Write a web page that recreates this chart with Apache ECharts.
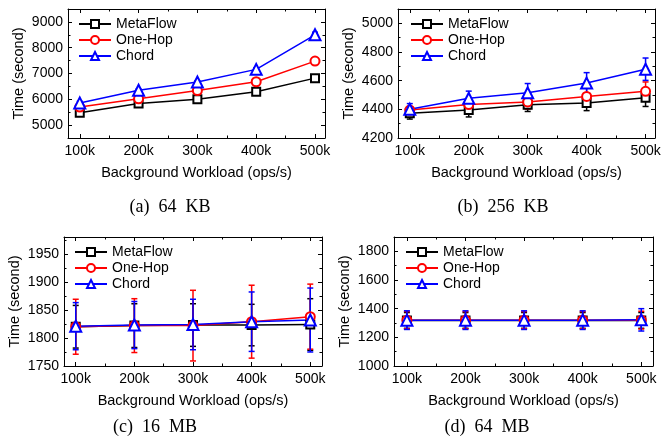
<!DOCTYPE html>
<html>
<head>
<meta charset="utf-8">
<script src="https://cdn.jsdelivr.net/npm/echarts@6/dist/echarts.min.js"></script>
<style>
html,body{margin:0;padding:0;background:#fff;}
#chart{width:665px;height:442px;}
</style>
</head>
<body>
<div id="chart"></div>
<script>
// ---- data ----
const categories = [100, 200, 300, 400, 500];
const xTickLabels = ['100k', '200k', '300k', '400k', '500k'];
const xMinorTicks = [150, 250, 350, 450];
const seriesNames = ['MetaFlow', 'One-Hop', 'Chord'];
const captions = ['(a)  64  KB', '(b)  256  KB', '(c)  16  MB', '(d)  64  MB'];
const xAxisTitle = 'Background Workload (ops/s)';
const yAxisTitle = 'Time (second)';

// (a) 64 KB
const a_MetaFlow = [5480, 5840, 6000, 6290, 6820];
const a_OneHop = [5700, 6020, 6340, 6680, 7480];
const a_Chord = [5860, 6350, 6670, 7160, 8500];
const a_MetaFlowErr = [60, 50, 50, 50, 50];
const a_OneHopErr = [50, 50, 50, 50, 60];
const a_ChordErr = [60, 50, 50, 60, 100];
const a_yTicks = [5000, 6000, 7000, 8000, 9000];
const a_yMinor = [4500, 5500, 6500, 7500, 8500, 9500];

// (b) 256 KB
const b_MetaFlow = [4372, 4395, 4432, 4444, 4480];
const b_OneHop = [4395, 4433, 4452, 4490, 4526];
const b_Chord = [4400, 4477, 4515, 4583, 4680];
const b_MetaFlowErr = [40, 48, 47, 53, 60];
const b_OneHopErr = [20, 22, 50, 57, 65];
const b_ChordErr = [40, 50, 65, 73, 78];
const b_yTicks = [4200, 4400, 4600, 4800, 5000];
const b_yMinor = [4300, 4500, 4700, 4900];

// (c) 16 MB
const c_MetaFlow = [1820, 1822, 1823, 1823, 1824];
const c_OneHop = [1820, 1822, 1822, 1829, 1838];
const c_Chord = [1821, 1823, 1824, 1829, 1832];
const c_MetaFlowErr = [38, 39, 38, 37, 46];
const c_OneHopErr = [49, 48, 63, 65, 58];
const c_ChordErr = [42, 42, 45, 53, 57];
const c_yTicks = [1750, 1800, 1850, 1900, 1950];
const c_yMinor = [1775, 1825, 1875, 1925, 1975];

// (d) 64 MB
const d_MetaFlow = [1318, 1318, 1318, 1318, 1318];
const d_OneHop = [1320, 1320, 1320, 1320, 1320];
const d_Chord = [1320, 1320, 1320, 1320, 1322];
const d_MetaFlowErr = [55, 55, 55, 55, 55];
const d_OneHopErr = [60, 60, 60, 60, 62];
const d_ChordErr = [65, 65, 65, 65, 78];
const d_yTicks = [1000, 1200, 1400, 1600, 1800];
const d_yMinor = [1100, 1300, 1500, 1700];

// ---- layout/style ----
const panels = [
  {grid: {left: 68, top: 9, width: 257, height: 129}, xMin: 80, xMax: 517, yMin: 4500, yMax: 9500,
   yTicks: a_yTicks, yMinor: a_yMinor, vals: [a_MetaFlow, a_OneHop, a_Chord], errs: [a_MetaFlowErr, a_OneHopErr, a_ChordErr],
   legend: {left: 78, top: 17}, caption: {x: 170, y: 207}},
  {grid: {left: 398, top: 9, width: 257, height: 129}, xMin: 80, xMax: 516, yMin: 4200, yMax: 5100,
   yTicks: b_yTicks, yMinor: b_yMinor, vals: [b_MetaFlow, b_OneHop, b_Chord], errs: [b_MetaFlowErr, b_OneHopErr, b_ChordErr],
   legend: {left: 410, top: 17}, caption: {x: 503, y: 207}},
  {grid: {left: 64, top: 237, width: 258, height: 129}, xMin: 80, xMax: 520, yMin: 1750, yMax: 1980,
   yTicks: c_yTicks, yMinor: c_yMinor, vals: [c_MetaFlow, c_OneHop, c_Chord], errs: [c_MetaFlowErr, c_OneHopErr, c_ChordErr],
   legend: {left: 74, top: 245}, caption: {x: 155, y: 427}},
  {grid: {left: 394, top: 237, width: 259, height: 129}, xMin: 78, xMax: 520, yMin: 1000, yMax: 1900,
   yTicks: d_yTicks, yMinor: d_yMinor, vals: [d_MetaFlow, d_OneHop, d_Chord], errs: [d_MetaFlowErr, d_OneHopErr, d_ChordErr],
   legend: {left: 405, top: 245}, caption: {x: 487, y: 427}}
];
const colors = ['#000000', '#ff0000', '#0000ff'];
const symbols = ['emptyRect', 'emptyCircle', 'emptyTriangle'];
const symbolSizes = [8, 9, 11];
const FONT = 'Liberation Sans, Arial, sans-serif';

const option = {
  animation: false,
  backgroundColor: '#fff',
  grid: [], xAxis: [], yAxis: [], series: [], legend: [], graphic: []
};

panels.forEach((p, gi) => {
  option.grid.push(Object.assign({containLabel: false}, p.grid));
  const axLine = {show: true, onZero: false, lineStyle: {color: '#000', width: 1}};
  const base = {gridIndex: gi, type: 'value', splitLine: {show: false}};
  const xBase = Object.assign({}, base, {min: p.xMin, max: p.xMax});
  const yBase = Object.assign({}, base, {min: p.yMin, max: p.yMax});
  const xi = option.xAxis.length;
  option.xAxis.push(Object.assign({}, xBase, {
    position: 'bottom', axisLine: axLine,
    axisTick: {show: true, inside: true, length: 4, customValues: categories, lineStyle: {color: '#000'}},
    axisLabel: {show: true, customValues: categories, margin: 6, color: '#000', fontSize: 14, fontFamily: FONT,
      formatter: v => xTickLabels[categories.indexOf(v)]},
    name: xAxisTitle, nameLocation: 'middle', nameGap: 27,
    nameTextStyle: {color: '#000', fontSize: 14.5, fontFamily: FONT}
  }));
  option.xAxis.push(Object.assign({}, xBase, {
    position: 'top', axisLine: axLine,
    axisTick: {show: true, inside: true, length: 4, customValues: categories, lineStyle: {color: '#000'}},
    axisLabel: {show: false}
  }));
  option.xAxis.push(Object.assign({}, xBase, {
    position: 'top', axisLine: {show: false},
    axisTick: {show: true, inside: true, length: 2.5, customValues: xMinorTicks, lineStyle: {color: '#000'}},
    axisLabel: {show: false}
  }));
  option.xAxis.push(Object.assign({}, xBase, {
    position: 'bottom', axisLine: {show: false},
    axisTick: {show: true, inside: true, length: 2.5, customValues: xMinorTicks, lineStyle: {color: '#000'}},
    axisLabel: {show: false}
  }));
  const yi = option.yAxis.length;
  option.yAxis.push(Object.assign({}, yBase, {
    position: 'left', axisLine: axLine,
    axisTick: {show: true, inside: true, length: 4, customValues: p.yTicks, lineStyle: {color: '#000'}},
    axisLabel: {show: true, customValues: p.yTicks, margin: 5, color: '#000', fontSize: 14, fontFamily: FONT,
      formatter: v => String(v)},
    name: yAxisTitle, nameLocation: 'middle', nameGap: 42, nameRotate: 90,
    nameTextStyle: {color: '#000', fontSize: 14.5, fontFamily: FONT}
  }));
  option.yAxis.push(Object.assign({}, yBase, {
    position: 'right', axisLine: axLine,
    axisTick: {show: true, inside: true, length: 4, customValues: p.yTicks, lineStyle: {color: '#000'}},
    axisLabel: {show: false}
  }));
  option.yAxis.push(Object.assign({}, yBase, {
    position: 'right', axisLine: {show: false},
    axisTick: {show: true, inside: true, length: 2.5, customValues: p.yMinor, lineStyle: {color: '#000'}},
    axisLabel: {show: false}
  }));
  option.yAxis.push(Object.assign({}, yBase, {
    position: 'left', axisLine: {show: false},
    axisTick: {show: true, inside: true, length: 2.5, customValues: p.yMinor, lineStyle: {color: '#000'}},
    axisLabel: {show: false}
  }));

  seriesNames.forEach((name, si) => {
    const vals = p.vals[si], errs = p.errs[si];
    option.series.push({
      type: 'custom', name: name + ' error', xAxisIndex: xi, yAxisIndex: yi,
      data: categories.map((x, k) => [x, vals[k] - errs[k], vals[k] + errs[k]]),
      encode: {x: 0, y: [1, 2]},
      silent: true,
      renderItem: (params, api) => {
        const lo = api.coord([api.value(0), api.value(1)]);
        const hi = api.coord([api.value(0), api.value(2)]);
        const w = 3;
        const st = {stroke: colors[si], lineWidth: 1.5};
        return {type: 'group', children: [
          {type: 'line', shape: {x1: lo[0], y1: lo[1], x2: hi[0], y2: hi[1]}, style: st},
          {type: 'line', shape: {x1: lo[0] - w, y1: lo[1], x2: lo[0] + w, y2: lo[1]}, style: st},
          {type: 'line', shape: {x1: hi[0] - w, y1: hi[1], x2: hi[0] + w, y2: hi[1]}, style: st}
        ]};
      }
    });
    option.series.push({
      type: 'line', name: name, xAxisIndex: xi, yAxisIndex: yi,
      data: categories.map((x, k) => [x, vals[k]]),
      symbol: symbols[si], symbolSize: symbolSizes[si], showAllSymbol: true,
      lineStyle: {color: colors[si], width: 1.5},
      itemStyle: {color: colors[si], borderColor: colors[si], borderWidth: 1.5},
      emphasis: {disabled: true}
    });
  });

  option.legend.push({
    left: p.legend.left, top: p.legend.top, orient: 'vertical',
    itemWidth: 32, itemHeight: 10, itemGap: 2, padding: 0,
    selectedMode: false,
    textStyle: {color: '#000', fontSize: 14, fontFamily: FONT, padding: [0, 0, 0, 0]},
    data: seriesNames
  });

  option.graphic.push({
    type: 'text', x: p.caption.x, y: p.caption.y,
    style: {text: captions[gi], font: '18px "Liberation Serif", "Times New Roman", serif',
      fill: '#000', textAlign: 'center', textVerticalAlign: 'middle'}
  });
});

const chart = echarts.init(document.getElementById('chart'), null, {renderer: 'canvas'});
chart.setOption(option);
</script>
</body>
</html>
